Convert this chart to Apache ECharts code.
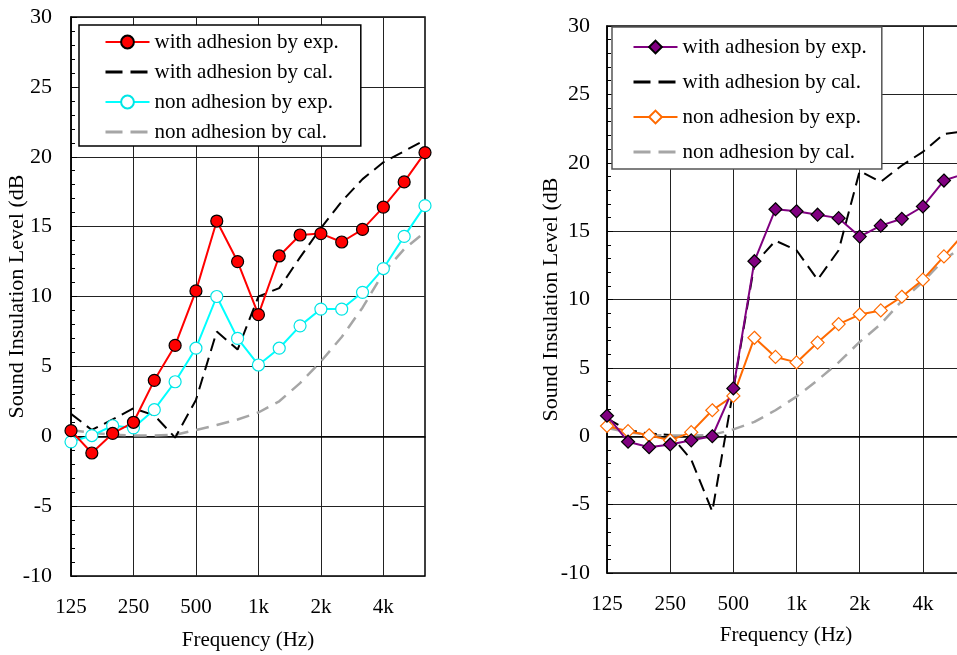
<!DOCTYPE html>
<html>
<head>
<meta charset="utf-8">
<script src="https://cdn.jsdelivr.net/npm/echarts@6/dist/echarts.min.js"></script>
<style>
html, body { margin: 0; padding: 0; background: #fff; }
#leftChart { position: absolute; left: 0; top: 0; width: 480px; height: 655px; }
#rightChart { position: absolute; left: 480px; top: 0; width: 477px; height: 655px; }
</style>
</head>
<body>
<div id="leftChart"></div>
<div id="rightChart"></div>
<script>
// 1/3 octave bands, labels shown every third band
var bands = ['125', '160', '200', '250', '315', '400', '500', '630', '800', '1k',
             '1.25k', '1.6k', '2k', '2.5k', '3.15k', '4k', '5k', '6.3k'];
var names = ['with adhesion by exp.', 'with adhesion by cal.', 'non adhesion by exp.', 'non adhesion by cal.'];

// left panel
var leftWithExp = [0.4, -1.2, 0.2, 1.0, 4.0, 6.5, 10.4, 15.4, 12.5, 8.7, 12.9, 14.4, 14.5, 13.9, 14.8, 16.4, 18.2, 20.3];
var leftWithCal = [1.6, 0.45, 1.2, 2.0, 1.5, -0.1, 2.6, 7.5, 6.2, 10.0, 10.6, 12.8, 14.9, 16.8, 18.4, 19.6, 20.4, 21.2];
var leftNonExp = [-0.4, 0.05, 0.75, 0.6, 1.9, 3.9, 6.3, 10.0, 7.0, 5.1, 6.3, 7.9, 9.1, 9.1, 10.3, 12.0, 14.3, 16.5];
var leftNonCal = [0.45, 0.25, 0.1, 0.05, 0.05, 0.1, 0.45, 0.8, 1.2, 1.7, 2.5, 3.8, 5.35, 7.1, 9.2, 11.7, 13.4, 14.6];

// right panel
var rightWithExp = [1.5, -0.4, -0.8, -0.6, -0.3, 0.0, 3.5, 12.8, 16.6, 16.45, 16.2, 15.95, 14.6, 15.4, 15.9, 16.8, 18.7, 19.2];
var rightWithCal = [1.3, 0.45, 0.2, 0.1, -1.7, -5.5, 3.4, 12.6, 14.3, 13.6, 11.45, 13.6, 19.4, 18.6, 19.8, 20.8, 22.1, 22.3];
var rightNonExp = [0.75, 0.37, 0.07, -0.3, 0.3, 1.9, 2.95, 7.2, 5.8, 5.4, 6.85, 8.2, 8.9, 9.2, 10.2, 11.45, 13.15, 14.9];
var rightNonCal = [0.6, 0.3, 0.1, 0.05, 0.05, 0.1, 0.5, 1.05, 1.9, 2.9, 4.1, 5.4, 6.9, 8.2, 9.9, 11.3, 12.9, 14.0];

var font = 'Liberation Serif';

function expSeries(name, data, lineColor, symbol, fill, border) {
    return {
        name: name,
        type: 'line',
        data: data,
        symbol: symbol,
        symbolSize: symbol == 'diamond' ? 13 : 12,
        showAllSymbol: true,
        lineStyle: { color: lineColor, width: 2 },
        itemStyle: { color: fill, borderColor: border, borderWidth: 1.2 },
        z: 4
    };
}

function calSeries(name, data, color, width, dash) {
    // transparent item colour so the legend shows the dashes only
    return {
        name: name,
        type: 'line',
        data: data,
        symbol: 'none',
        lineStyle: { color: color, width: width, type: dash },
        itemStyle: { color: 'rgba(0,0,0,0)', borderWidth: 0 },
        z: 3
    };
}

function legendData(calColors) {
    return [
        names[0],
        { name: names[1], lineStyle: { color: '#000', width: 3, type: [17, 8] } },
        names[2],
        { name: names[3], lineStyle: { color: '#a6a6a6', width: 3, type: [17, 8] } }
    ];
}

function buildOption(cfg) {
    return {
        animation: false,
        grid: {
            left: cfg.grid[0], top: cfg.grid[1], right: cfg.grid[2], bottom: cfg.grid[3],
            outerBoundsMode: 'none',
            containLabel: false,
            show: true, borderColor: '#000', borderWidth: 1.5, backgroundColor: 'transparent'
        },
        legend: {
            data: legendData(),
            orient: 'vertical',
            left: cfg.legend.left,
            top: cfg.legend.top,
            itemWidth: 44,
            itemHeight: 16,
            itemGap: cfg.legend.gap,
            padding: cfg.legend.padding,
            selectedMode: false,
            backgroundColor: '#fff',
            borderColor: cfg.legend.border,
            borderWidth: 1.5,
            textStyle: { fontFamily: font, fontSize: 21, color: '#000', lineHeight: 22 }
        },
        xAxis: {
            type: 'category',
            data: bands,
            boundaryGap: false,
            name: 'Frequency (Hz)',
            nameLocation: 'middle',
            nameGap: cfg.xNameGap,
            nameMoveOverlap: false,
            nameTextStyle: { fontFamily: font, fontSize: 21, color: '#000' },
            axisLine: { lineStyle: { color: '#000', width: 1.5 } },
            axisTick: { show: false },
            axisLabel: { interval: 2, margin: 21, fontFamily: font, fontSize: 21, color: '#000' },
            splitLine: { show: true, interval: 2, lineStyle: { color: '#222', width: 1 } }
        },
        yAxis: {
            type: 'value',
            min: -10,
            max: 30,
            interval: 5,
            name: 'Sound Insulation Level (dB',
            nameLocation: 'middle',
            nameGap: cfg.yNameGap,
            nameMoveOverlap: false,
            nameTextStyle: { fontFamily: font, fontSize: 22, color: '#000' },
            axisLine: { show: true, lineStyle: { color: '#000', width: 1.5 } },
            axisTick: { show: true, inside: true, length: 6, lineStyle: { color: '#000' } },
            minorTick: { show: true, splitNumber: 5, length: 4, lineStyle: { color: '#000' } },
            axisLabel: { margin: cfg.yLabelMargin, fontFamily: font, fontSize: 22, color: '#000' },
            splitLine: { show: true, lineStyle: { color: '#222', width: 1 } }
        },
        series: cfg.series
    };
}

var leftChart = echarts.init(document.getElementById('leftChart'));
leftChart.setOption(buildOption({
    grid: [71, 17, 55, 79],
    legend: { left: 79, top: 25, gap: 8, padding: [6, 22, 3, 25], border: '#000' },
    xNameGap: 54,
    yNameGap: 43,
    yLabelMargin: 19,
    series: [
        calSeries(names[3], leftNonCal, '#a6a6a6', 2.5, [13, 8]),
        calSeries(names[1], leftWithCal, '#000', 2, [13, 7]),
        expSeries(names[2], leftNonExp, '#00ffff', 'circle', '#fff', '#00e5e5'),
        expSeries(names[0], leftWithExp, '#ff0000', 'circle', '#ff0000', '#000')
    ]
}));

var rightChart = echarts.init(document.getElementById('rightChart'));
rightChart.setOption(buildOption({
    grid: [127, 26, -8, 82],
    legend: { left: 132, top: 27, gap: 13, padding: [9, 15, 6, 20], border: '#555' },
    xNameGap: 52,
    yNameGap: 45,
    yLabelMargin: 17,
    series: [
        calSeries(names[3], rightNonCal, '#a6a6a6', 2.5, [13, 8]),
        calSeries(names[1], rightWithCal, '#000', 2, [13, 7]),
        expSeries(names[2], rightNonExp, '#ff6a00', 'diamond', '#fff', '#ff6a00'),
        expSeries(names[0], rightWithExp, '#800080', 'diamond', '#800080', '#000')
    ]
}));
</script>
</body>
</html>
